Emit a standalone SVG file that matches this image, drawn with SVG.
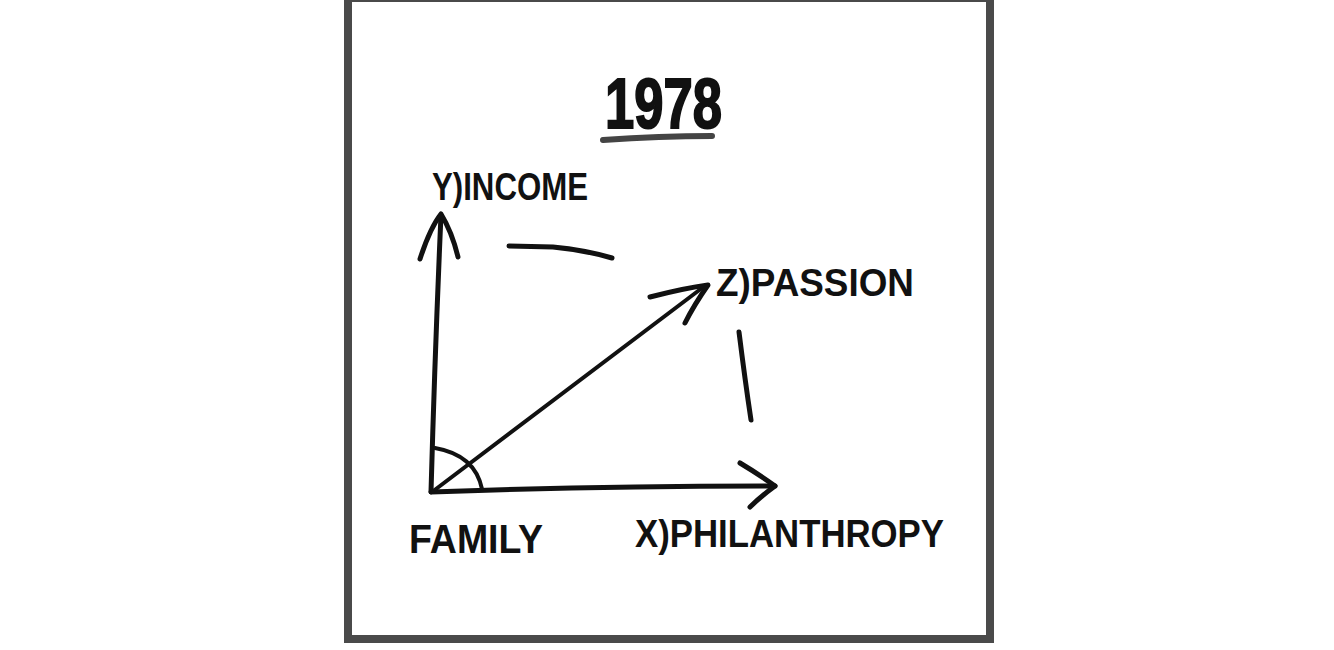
<svg xmlns="http://www.w3.org/2000/svg" width="1334" height="650" viewBox="0 0 1334 650">
<style>
.lbl{font-family:"Liberation Sans",Arial,sans-serif;font-weight:bold;fill:#111;}
.ax{fill:none;stroke:#111;stroke-width:5;stroke-linecap:round;stroke-linejoin:round;}
.thin{fill:none;stroke:#111;stroke-width:4;stroke-linecap:round;}
</style>
<rect x="0" y="0" width="1334" height="650" fill="#fff"/>
<rect id="frame" x="348" y="-2" width="642" height="641" fill="#fff" stroke="#4a4a4a" stroke-width="8"/>
<g id="title">
<text class="lbl" x="605" y="128" font-size="70" textLength="117" lengthAdjust="spacingAndGlyphs" stroke="#111" stroke-width="2">1978</text>
<path d="M603 140 Q660 136 712 136" fill="none" stroke="#444" stroke-width="6" stroke-linecap="round"/>
</g>
<g id="connectors">
<path class="ax" d="M431 492 Q435 350 441 215"/>
<path class="ax" d="M420 259 Q430 228 441 214 Q452 232 458 257"/>
<path class="ax" d="M431 492 Q600 486 775 486"/>
<path class="ax" d="M740 463 Q760 475 775 486 Q760 497 750 507"/>
<path class="thin" d="M432 492 L706 285"/>
<path class="ax" d="M650 297 Q685 288 708 285 Q694 305 685 323"/>
<path class="thin" d="M435 448 Q475 455 482 489"/>
<path class="ax" d="M509 246 L553 247 Q585 250 612 258"/>
<path class="ax" d="M739 332 Q745 380 751 420"/>
</g>
<g id="node-income"><text class="lbl" x="432" y="200" font-size="38" textLength="156" lengthAdjust="spacingAndGlyphs">Y)INCOME</text></g>
<g id="node-passion"><text class="lbl" x="716" y="296" font-size="38" textLength="198" lengthAdjust="spacingAndGlyphs">Z)PASSION</text></g>
<g id="node-family"><text class="lbl" x="409" y="553" font-size="40" textLength="134" lengthAdjust="spacingAndGlyphs">FAMILY</text></g>
<g id="node-philanthropy"><text class="lbl" x="635" y="547" font-size="38" textLength="309" lengthAdjust="spacingAndGlyphs">X)PHILANTHROPY</text></g>
</svg>
